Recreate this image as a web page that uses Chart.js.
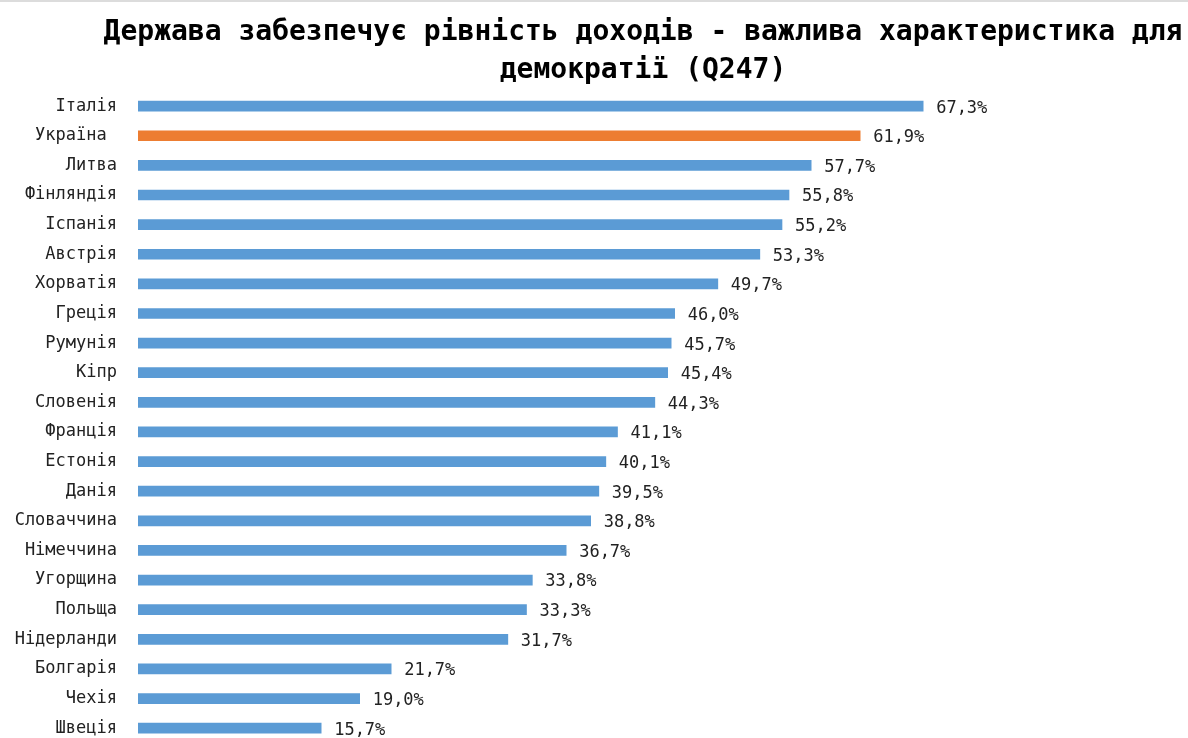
<!DOCTYPE html>
<html>
<head>
<meta charset="utf-8">
<script src="https://cdn.jsdelivr.net/npm/chart.js@4"></script>
<style>
  html, body { margin: 0; padding: 0; background: #fff; overflow: hidden; }
  #wrap { position: relative; width: 1188px; height: 743px; }
  #topline { position: absolute; left: 0; top: 0; width: 1188px; height: 2px; background: #dcdcdc; }
</style>
</head>
<body>
<div id="wrap">
  <canvas id="chart" width="1188" height="743"></canvas>
  <div id="topline"></div>
</div>
<script>
// categories and values
const countries = ['Італія', 'Україна ', 'Литва', 'Фінляндія', 'Іспанія', 'Австрія', 'Хорватія', 'Греція',
  'Румунія', 'Кіпр', 'Словенія', 'Франція', 'Естонія', 'Данія', 'Словаччина', 'Німеччина',
  'Угорщина', 'Польща', 'Нідерланди', 'Болгарія', 'Чехія', 'Швеція'];
const shares = [67.3, 61.9, 57.7, 55.8, 55.2, 53.3, 49.7, 46.0, 45.7, 45.4, 44.3, 41.1, 40.1, 39.5,
  38.8, 36.7, 33.8, 33.3, 31.7, 21.7, 19.0, 15.7];
const highlight = 'Україна ';

const blue = '#5b9bd5';
const orange = '#ed7d31';
const barColors = countries.map(c => c === highlight ? orange : blue);

// draws "67,3%" after each bar
const valueLabels = {
  id: 'valueLabels',
  afterDatasetsDraw(chart) {
    const ctx = chart.ctx;
    const meta = chart.getDatasetMeta(0);
    ctx.save();
    ctx.font = '17px "DejaVu Sans Mono", monospace';
    ctx.fillStyle = '#222';
    ctx.textAlign = 'left';
    ctx.textBaseline = 'middle';
    meta.data.forEach((bar, i) => {
      const txt = shares[i].toFixed(1).replace('.', ',') + '%';
      ctx.fillText(txt, bar.x + 13, bar.y + 2);
    });
    ctx.restore();
  }
};

new Chart(document.getElementById('chart'), {
  type: 'bar',
  data: {
    labels: countries,
    datasets: [{
      data: shares,
      backgroundColor: barColors,
      barThickness: 10
    }]
  },
  options: {
    indexAxis: 'y',
    responsive: false,
    animation: false,
    // negative right padding: title ends up centred over the plot like the original
    layout: { padding: { left: 0, right: -98, top: 0, bottom: 0 } },
    scales: {
      x: { display: false, min: 0, max: 90 },
      y: {
        grid: { display: false, drawTicks: false },
        border: { display: false },
        afterFit(scale) {
          scale.width = 138;
          scale.paddingTop = 0;
          scale.paddingBottom = 0;
        },
        ticks: {
          padding: 21,
          color: '#222',
          font: { family: '"DejaVu Sans Mono", monospace', size: 17 }
        }
      }
    },
    plugins: {
      legend: { display: false },
      tooltip: { enabled: false },
      title: {
        display: true,
        text: ['Держава забезпечує рівність доходів - важлива характеристика для', 'демократії (Q247)'],
        color: '#000',
        font: { family: '"DejaVu Sans Mono", monospace', size: 28, weight: 'bold', lineHeight: 1.38 },
        padding: { top: 13, bottom: 1 }
      }
    }
  },
  plugins: [valueLabels]
});
</script>
</body>
</html>
